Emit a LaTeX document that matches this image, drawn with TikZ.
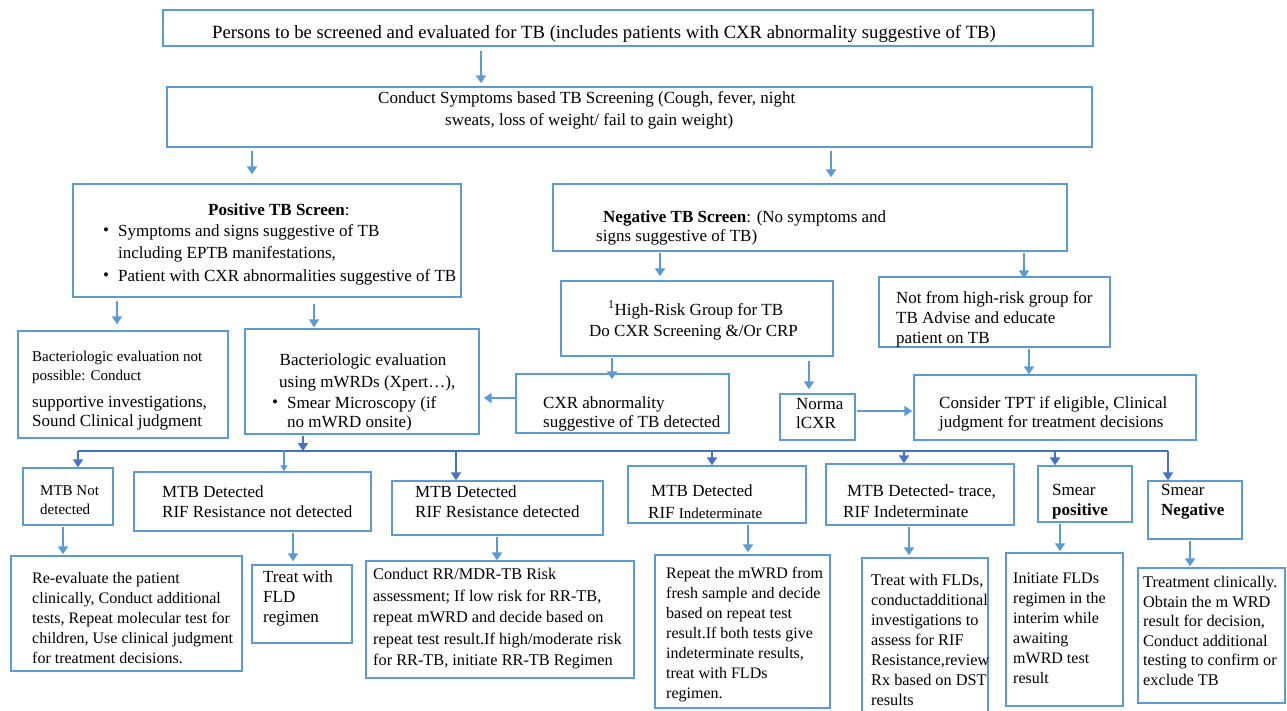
\documentclass[tikz,border=0pt]{standalone}
\usepackage{fontspec}
\setmainfont{Liberation Serif}
\usetikzlibrary{arrows.meta,fit}
\definecolor{lb}{HTML}{5B9BD5}
\definecolor{db}{HTML}{4472C4}
\tikzset{
 box/.style={draw=lb, line width=1.4pt, inner sep=0pt},
 txt/.style={inner sep=0pt, anchor=west, align=left, font=\fontsize{17}{20}\selectfont},
 txtn/.style={txt, font=\fontsize{17}{19}\selectfont},
 txts/.style={txt, font=\fontsize{15}{19}\selectfont},
 txtb/.style={txt, font=\fontsize{16}{20}\selectfont},
 arr/.style={draw=lb, line width=2.5pt, -{Triangle[length=8pt,width=10pt]}},
 darr/.style={draw=db, line width=2.5pt, -{Triangle[length=8pt,width=10pt]}},
 thinarr/.style={draw=lb, line width=1.3pt, -{Triangle[length=6pt,width=7pt]}},
 bus/.style={draw=db, line width=2.8pt},
}
\begin{document}
\begin{tikzpicture}[x=1pt,y=-1pt]
\useasboundingbox[fill=white] (0,0) rectangle (1287,711);
% ---------- boxes ----------
\node[box, fit={(163,10) (1093,46)}] (b1) {};
\node[box, fit={(167,87) (1092,147)}] (b2) {};
\node[box, fit={(73,184) (461,297)}] (pos) {};
\node[box, fit={(553,184) (1067,251)}] (neg) {};
\node[box, fit={(18,331) (228,438)}] (np) {};
\node[box, fit={(245,329) (479,434)}] (mw) {};
\node[box, fit={(561,281) (833,356)}] (hr) {};
\node[box, fit={(879,277) (1110,347)}] (nhr) {};
\node[box, fit={(516,374) (729,433)}] (cxr) {};
\node[box, fit={(780,394) (855,440)}] (nor) {};
\node[box, fit={(914,375) (1196,440)}] (tpt) {};
\node[box, fit={(23,468) (113,525)}] (mnd) {};
\node[box, fit={(134,472) (371,531)}] (rnd) {};
\node[box, fit={(392,481) (603,535)}] (rrd) {};
\node[box, fit={(628,466) (806,523)}] (rind) {};
\node[box, fit={(826,464) (1014,525)}] (trace) {};
\node[box, fit={(1038,466) (1132,522)}] (spos) {};
\node[box, fit={(1148,481) (1242,539)}] (sneg) {};
\node[box, fit={(11,556) (242,671)}] (reev) {};
\node[box, fit={(252,565) (352,643)}] (fld) {};
\node[box, fit={(366,561) (634,678)}] (cond) {};
\node[box, fit={(655,555) (830,708)}] (rep) {};
\node[box, fit={(862,558) (988,716)}] (tfl) {};
\node[box, fit={(1006,553) (1123,706)}] (init) {};
\node[box, fit={(1138,568) (1285,703)}] (trt) {};
% ---------- texts ----------
\node[txt, font=\fontsize{18.7}{22}\selectfont] (t1) at (212,34) {Persons to be screened and evaluated for TB (includes patients with CXR abnormality suggestive of TB)};
\node[txt] (t2) at (378,99) {Conduct Symptoms based TB Screening (Cough, fever, night};
\node[txt] (t3) at (445,121) {sweats, loss of weight/ fail to gain weight)};
\node[txt] (t4) at (208,210) {\textbf{Positive TB Screen}:};
\node[txt] (t5b) at (103,232) {•};
\node[txt, font=\fontsize{17}{22}\selectfont] (t5) at (118,243) {Symptoms and signs suggestive of TB\\including EPTB manifestations,};
\node[txt] (t6b) at (103,277) {•};
\node[txt] (t6) at (118,277) {Patient with CXR abnormalities suggestive of TB};
\node[txts] (t7) at (32,367.5) {Bacteriologic evaluation not\\possible: Conduct};
\node[txtn] (t8) at (32,413.5) {supportive investigations,\\Sound Clinical judgment};
\node[txt, anchor=center] (t9) at (363,361) {Bacteriologic evaluation};
\node[txt] (t10) at (279,383) {using mWRDs (Xpert…),};
\node[txt] (t11b) at (272,404) {•};
\node[txtn] (t11) at (287,413.5) {Smear Microscopy (if\\no mWRD onsite)};
\node[txt] (t12) at (603,218) {\textbf{Negative TB Screen}: (No symptoms and};
\node[txt] (t13) at (596,237) {signs suggestive of TB)};
\node[txt] (t14) at (608,310) {\textsuperscript{1}High-Risk Group for TB};
\node[txt] (t15) at (589,333) {Do CXR Screening \&/Or CRP};
\node[txt] (t16) at (896,319) {Not from high-risk group for\\TB Advise and educate\\patient on TB};
\node[txtn] (t17) at (543,413.5) {CXR abnormality\\suggestive of TB detected};
\node[txtn] (t18) at (796,413.5) {Norma\\lCXR};
\node[txtn] (t19) at (939,413.5) {Consider TPT if eligible, Clinical\\judgment for treatment decisions};
\node[txts] (t20) at (40,500.5) {MTB Not\\detected};
\node[txt] (t21) at (162,502) {MTB Detected\\RIF Resistance not detected};
\node[txt] (t22) at (415,501.5) {MTB Detected\\RIF Resistance detected};
\node[txt] (t23) at (651,491) {MTB Detected};
\node[txt] (t24) at (648,513) {RIF {\fontsize{15}{16}\selectfont Indeterminate}};
\node[txt] (t25) at (847,492) {MTB Detected- trace,};
\node[txt] (t26) at (843,512) {RIF Indeterminate};
\node[txt] (t27) at (1052,502) {Smear\\\textbf{positive}};
\node[txt] (t28) at (1161,502) {Smear\\\textbf{Negative}};
\node[txtb] (t29) at (32,618) {Re-evaluate the patient\\clinically, Conduct additional\\tests, Repeat molecular test for\\children, Use clinical judgment\\for treatment decisions.};
\node[txt] (t30) at (263,598) {Treat with\\FLD\\regimen};
\node[txt, font=\fontsize{16.3}{21.5}\selectfont] (t31) at (373,619) {Conduct RR/MDR-TB Risk\\assessment; If low risk for RR-TB,\\repeat mWRD and decide based on\\repeat test result.If high/moderate risk\\for RR-TB, initiate RR-TB Regimen};
\node[txtb] (t32) at (666,634.5) {Repeat the mWRD from\\fresh sample and decide\\based on repeat test\\result.If both tests give\\indeterminate results,\\treat with FLDs\\regimen.};
\node[txt, font=\fontsize{16.3}{20}\selectfont] (t33) at (871,639.5) {Treat with FLDs,\\conductadditional\\investigations to\\assess for RIF\\Resistance,review\\Rx based on DST\\results};
\node[txtb] (t34) at (1013,628) {Initiate FLDs\\regimen in the\\interim while\\awaiting\\mWRD test\\result};
\node[txt, font=\fontsize{16.3}{19.6}\selectfont] (t35) at (1143,631) {Treatment clinically.\\Obtain the m WRD\\result for decision,\\Conduct additional\\testing to confirm or\\exclude TB};
% ---------- connector x positions ----------
\coordinate (x481) at (481,0);
\coordinate (x252) at (252,0);
\coordinate (x831) at (831,0);
\coordinate (x117) at (117,0);
\coordinate (x314) at (314,0);
\coordinate (x660) at (660,0);
\coordinate (x1024) at (1024,0);
\coordinate (x612) at (612,0);
\coordinate (x809) at (809,0);
\coordinate (y398) at (0,398);
\coordinate (y411) at (0,411);
\coordinate (x1029) at (1029,0);
\coordinate (x303) at (303,0);
\coordinate (x63) at (63,0);
\coordinate (x293) at (293,0);
\coordinate (x497) at (497,0);
\coordinate (x748) at (748,0);
\coordinate (x909) at (909,0);
\coordinate (x1060) at (1060,0);
\coordinate (x1190) at (1190,0);
% bus points
\coordinate (busM) at (303,451);
\coordinate (d1) at (78,451);
\coordinate (d2) at (284,451);
\coordinate (d3) at (456,451);
\coordinate (d4) at (712,451);
\coordinate (d5) at (904,451);
\coordinate (d6) at (1055,451);
\coordinate (d7) at (1168,451);
% ---------- connectors ----------
\draw[arr, shorten <=4pt, shorten >=3pt] (b1.south -| x481) -- (b2.north -| x481);
\draw[arr, shorten <=3pt, shorten >=9pt] (b2.south -| x252) -- (pos.north -| x252);
\draw[arr, shorten <=3pt, shorten >=6pt] (b2.south -| x831) -- (neg.north -| x831);
\draw[arr, shorten <=3pt, shorten >=6pt] (pos.south -| x117) -- (np.north -| x117);
\draw[arr, shorten <=6pt, shorten >=1pt] (pos.south -| x314) -- (mw.north -| x314);
\draw[arr, shorten <=1pt, shorten >=4pt] (neg.south -| x660) -- (hr.north -| x660);
\draw[arr, shorten <=1pt, shorten >=-2pt] (neg.south -| x1024) -- (nhr.north -| x1024);
\draw[arr, shorten <=1pt, shorten >=-6pt] (hr.south -| x612) -- (cxr.north -| x612);
\draw[arr, shorten <=4pt, shorten >=4pt] (hr.south -| x809) -- (nor.north -| x809);
\draw[arr, shorten >=4pt] (cxr.west |- y398) -- (mw.east |- y398);
\draw[arr, shorten <=1pt, shorten >=1pt] (nor.east |- y411) -- (tpt.west |- y411);
\draw[arr, shorten <=1pt] (nhr.south -| x1029) -- (tpt.north -| x1029);
\draw[darr, shorten <=1pt] (mw.south -| x303) -- (busM);
\draw[bus] (d1) -- (d7);
\draw[darr] (d1) -- (mnd.north -| d1);
\draw[thinarr] (d2) -- (rnd.north -| d2);
\draw[darr] (d3) -- (rrd.north -| d3);
\draw[darr] (d4) -- (rind.north -| d4);
\draw[darr] (d5) -- (trace.north -| d5);
\draw[darr] (d6) -- (spos.north -| d6);
\draw[darr] (d7) -- (sneg.north -| d7);
\draw[arr, shorten <=1pt, shorten >=1pt] (mnd.south -| x63) -- (reev.north -| x63);
\draw[arr, shorten <=1pt, shorten >=3pt] (rnd.south -| x293) -- (fld.north -| x293);
\draw[arr, shorten <=1pt] (rrd.south -| x497) -- (cond.north -| x497);
\draw[arr, shorten <=1pt, shorten >=2pt] (rind.south -| x748) -- (rep.north -| x748);
\draw[arr, shorten <=1pt, shorten >=2pt] (trace.south -| x909) -- (tfl.north -| x909);
\draw[arr, shorten <=1pt, shorten >=1pt] (spos.south -| x1060) -- (init.north -| x1060);
\draw[arr, shorten <=1pt, shorten >=1pt] (sneg.south -| x1190) -- (trt.north -| x1190);
\end{tikzpicture}
\end{document}
